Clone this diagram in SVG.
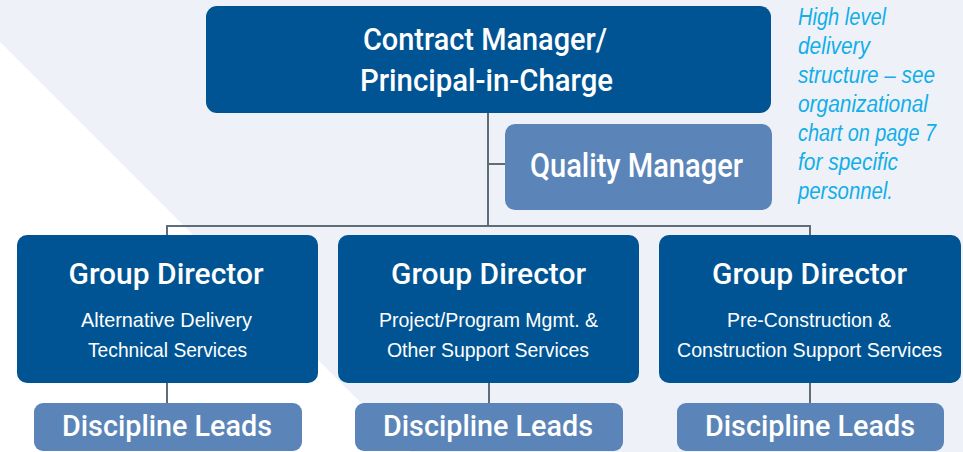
<svg xmlns="http://www.w3.org/2000/svg" width="963" height="452" viewBox="0 0 963 452">
  <style>
    .dark { fill: #005493; }
    .light { fill: #5b85b8; }
    .t { font-family: "Liberation Sans", Arial, sans-serif; fill: #ffffff; text-anchor: middle; }
    .m { font-family: Roboto, "Liberation Sans", Arial, sans-serif; font-weight: 500; }
    .title { font-size: 32px; }
    .gd { font-size: 30px; }
    .sub { font-size: 21px; }
    .note { font-family: "Liberation Sans", Arial, sans-serif; font-style: italic; font-size: 23px; fill: #12aee8; }
    .conn { fill: none; stroke: #5f6d79; stroke-width: 2; }
  </style>
  <rect x="0" y="0" width="963" height="452" fill="#eef2f8"/>
  <polygon points="0,42 0,452 410,452" fill="#ffffff"/>

  <g id="connectors">
    <path class="conn" d="M488 113 V227"/>
    <path class="conn" d="M488 164 H505"/>
    <path class="conn" d="M167 235 V226 H810 V235"/>
    <path class="conn" d="M167 383 V403"/>
    <path class="conn" d="M489 383 V403"/>
    <path class="conn" d="M810 383 V403"/>
  </g>

  <g id="contract-manager">
    <rect class="dark" x="206" y="6" width="565" height="107" rx="11"/>
    <text class="t m title" x="485" y="50" textLength="244" lengthAdjust="spacingAndGlyphs">Contract Manager/</text>
    <text class="t m title" x="486.5" y="91" textLength="253" lengthAdjust="spacingAndGlyphs">Principal-in-Charge</text>
  </g>

  <g id="quality-manager">
    <rect class="light" x="505" y="124" width="267" height="86" rx="10"/>
    <text class="t m" x="636.5" y="177" font-size="33" textLength="213" lengthAdjust="spacingAndGlyphs">Quality Manager</text>
  </g>

  <g id="gd-left">
    <rect class="dark" x="17" y="235" width="301" height="148" rx="10"/>
    <text class="t m gd" x="166" y="284" textLength="195" lengthAdjust="spacingAndGlyphs">Group Director</text>
    <text class="t sub" x="166.5" y="327" textLength="171" lengthAdjust="spacingAndGlyphs">Alternative Delivery</text>
    <text class="t sub" x="167.5" y="357" textLength="159" lengthAdjust="spacingAndGlyphs">Technical Services</text>
  </g>

  <g id="gd-middle">
    <rect class="dark" x="338" y="235" width="301" height="148" rx="10"/>
    <text class="t m gd" x="488.5" y="284" textLength="195" lengthAdjust="spacingAndGlyphs">Group Director</text>
    <text class="t sub" x="488.5" y="327" textLength="219" lengthAdjust="spacingAndGlyphs">Project/Program Mgmt. &amp;</text>
    <text class="t sub" x="488" y="357" textLength="202" lengthAdjust="spacingAndGlyphs">Other Support Services</text>
  </g>

  <g id="gd-right">
    <rect class="dark" x="659" y="235" width="302" height="148" rx="10"/>
    <text class="t m gd" x="809.5" y="284" textLength="195" lengthAdjust="spacingAndGlyphs">Group Director</text>
    <text class="t sub" x="809" y="327" textLength="164" lengthAdjust="spacingAndGlyphs">Pre-Construction &amp;</text>
    <text class="t sub" x="809.5" y="357" textLength="265" lengthAdjust="spacingAndGlyphs">Construction Support Services</text>
  </g>

  <g id="dl-left">
    <rect class="light" x="34" y="403" width="268" height="48" rx="9"/>
    <text class="t m gd" x="167" y="436" textLength="210" lengthAdjust="spacingAndGlyphs">Discipline Leads</text>
  </g>
  <g id="dl-middle">
    <rect class="light" x="355" y="403" width="268" height="48" rx="9"/>
    <text class="t m gd" x="488" y="436" textLength="210" lengthAdjust="spacingAndGlyphs">Discipline Leads</text>
  </g>
  <g id="dl-right">
    <rect class="light" x="677" y="403" width="267" height="48" rx="9"/>
    <text class="t m gd" x="810" y="436" textLength="210" lengthAdjust="spacingAndGlyphs">Discipline Leads</text>
  </g>

  <g id="note">
    <text class="note" x="798" y="25" textLength="88" lengthAdjust="spacingAndGlyphs">High level</text>
    <text class="note" x="798" y="54" textLength="72" lengthAdjust="spacingAndGlyphs">delivery</text>
    <text class="note" x="798" y="83" textLength="137" lengthAdjust="spacingAndGlyphs">structure – see</text>
    <text class="note" x="798" y="112" textLength="130" lengthAdjust="spacingAndGlyphs">organizational</text>
    <text class="note" x="798" y="141" textLength="138" lengthAdjust="spacingAndGlyphs">chart on page 7</text>
    <text class="note" x="798" y="170" textLength="100" lengthAdjust="spacingAndGlyphs">for specific</text>
    <text class="note" x="798" y="199" textLength="95" lengthAdjust="spacingAndGlyphs">personnel.</text>
  </g>
</svg>
